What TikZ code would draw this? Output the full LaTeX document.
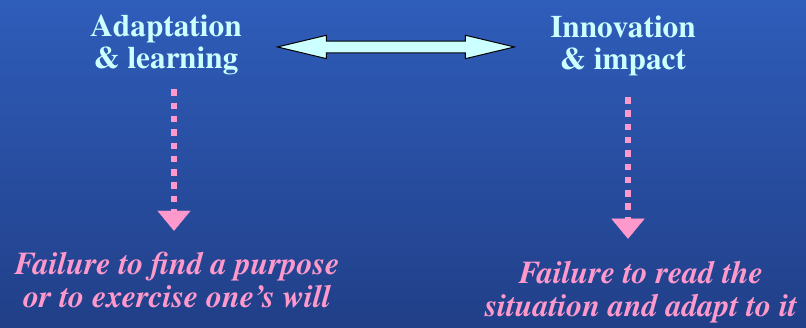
\documentclass[tikz,border=0pt]{standalone}
\usepackage[T1]{fontenc}
\usepackage{times}
\usepackage{xcolor}
\usetikzlibrary{arrows.meta,positioning,calc}
\definecolor{bgtop}{HTML}{2F5DBA}
\definecolor{bgmid}{HTML}{2A52A8}
\definecolor{bgbot}{HTML}{213F88}
\definecolor{icecyan}{HTML}{CCFFFF}
\definecolor{rosepink}{HTML}{FF99CC}
\tikzset{
  >=Latex,
  every node/.style={inner sep=0pt,align=center},
  head/.style={text=icecyan,font=\fontsize{31.3bp}{32bp}\selectfont\bfseries},
  fail/.style={text=rosepink,font=\fontsize{31.9bp}{32.5bp}\selectfont\bfseries\itshape},
  link/.style={draw=black,line width=1bp,fill=icecyan,line join=miter},
  dotarr/.style={draw=rosepink,line width=6.5bp,dash pattern=on 6.5bp off 6.8bp,
    -{Triangle[length=20bp,width=33bp,line width=0.1bp,fill=rosepink]}}
}

\begin{document}
\begin{tikzpicture}[x=1bp,y=-1bp]
  \useasboundingbox (0,0) rectangle (806,327);
  \shade[top color=bgtop,middle color=bgmid,bottom color=bgbot] (0,0) rectangle (806,327);

  \node[head] (adapt) at (166,45) {Adaptation\\\& learning};
  \node[head] (innov) at (623,45.7) {Innovation\\\& impact};
  \node[fail] (fail1) at (177,280.4) {Failure to find a purpose\\or to exercise one's will};
  \node[fail] (fail2) at (641,292.4) {Failure to read the\\situation and adapt to it};

  \coordinate (mid) at ($(adapt.east)!0.5!(innov.west)$);
  \draw[link,shift={(mid)},yshift=-1.6bp] (-118.5,0) -- (-69.5,-11.7) -- (-69.5,-5.8) -- (69.5,-5.8) -- (69.5,-11.7)
    -- (118.5,0) -- (69.5,11.7) -- (69.5,5.8) -- (-69.5,5.8) -- (-69.5,11.7) -- cycle;

  \draw[dotarr] ([shift={(8,14.2)}]adapt.south) -- ([shift={(-3,-22)}]fail1.north);
  \draw[dotarr] ([shift={(5,21.2)}]innov.south) -- ([shift={(-13,-23)}]fail2.north);
\end{tikzpicture}
\end{document}
